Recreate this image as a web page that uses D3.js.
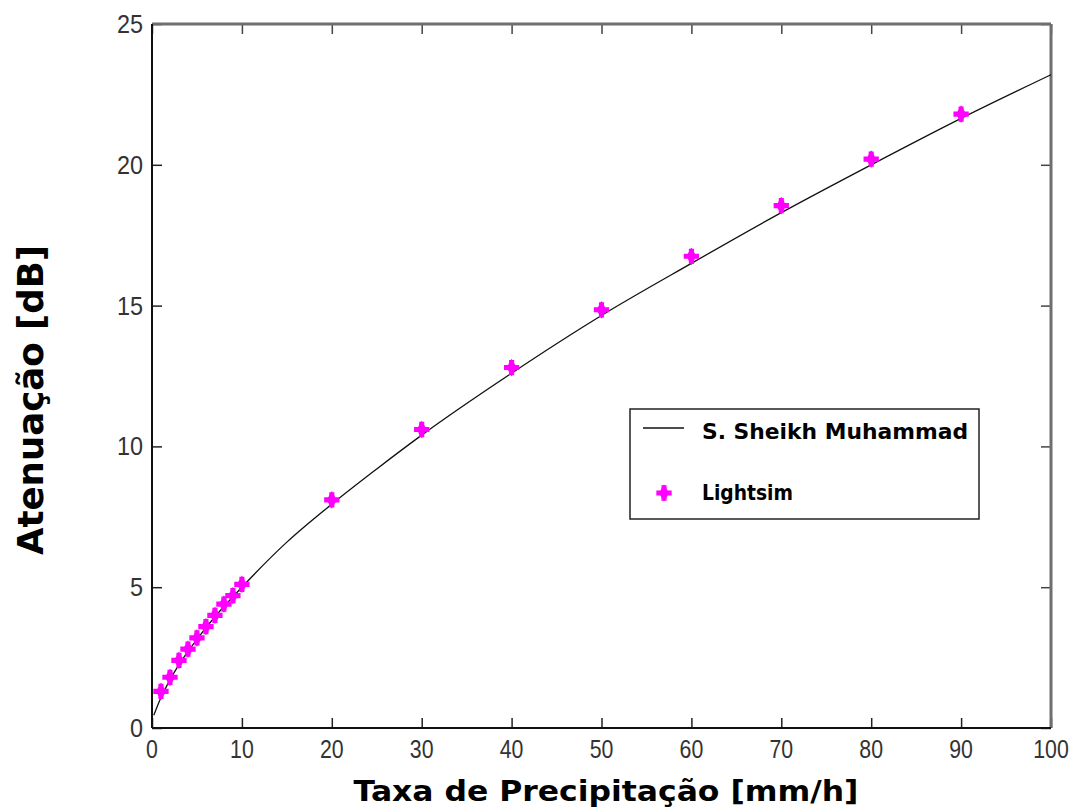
<!DOCTYPE html>
<html>
<head>
<script src="https://d3js.org/d3.v7.min.js"></script>
<style>
  body { margin: 0; background: #fff; }
  text { font-family: "Liberation Sans", Arial, sans-serif; }
  text.heavy { font-family: "DejaVu Sans", "Liberation Sans", sans-serif; font-weight: bold; }
</style>
</head>
<body>
<svg id="chart" width="1073" height="808"></svg>
<script>
// curve (S. Sheikh Muhammad)
const curveX = [0.2, 1, 2, 3, 5, 7, 10, 15, 20, 25, 30, 40, 50, 60, 70, 80, 90, 100];
const curveY = [0.45, 1.08, 1.71, 2.25, 3.15, 3.95, 5.0, 6.6, 7.95, 9.2, 10.4, 12.6, 14.65, 16.5, 18.3, 20.0, 21.65, 23.2];

// Lightsim points
const simX = [1, 2, 3, 4, 5, 6, 7, 8, 9, 10, 20, 30, 40, 50, 60, 70, 80, 90];
const simY = [1.3, 1.8, 2.4, 2.8, 3.2, 3.6, 4.0, 4.4, 4.7, 5.1, 8.1, 10.6, 12.8, 14.85, 16.75, 18.55, 20.2, 21.8];

const xTicks = [0, 10, 20, 30, 40, 50, 60, 70, 80, 90, 100];
const yTicks = [0, 5, 10, 15, 20, 25];

const svg = d3.select("#chart");
const pLeft = 152, pRight = 1051, pTop = 24, pBottom = 728;

const x = d3.scaleLinear().domain([0, 100]).range([pLeft, pRight]);
const y = d3.scaleLinear().domain([0, 25]).range([pBottom, pTop]);

// inward ticks on all four sides
const tickLen = 10;
svg.append("g").attr("transform", `translate(0,${pBottom})`)
  .call(d3.axisTop(x).tickValues(xTicks).tickSize(tickLen).tickFormat(""))
  .call(g => g.select(".domain").remove())
  .selectAll("line").attr("stroke", "#222").attr("stroke-width", 1.5);
svg.append("g").attr("transform", `translate(0,${pTop})`)
  .call(d3.axisBottom(x).tickValues(xTicks).tickSize(tickLen).tickFormat(""))
  .call(g => g.select(".domain").remove())
  .selectAll("line").attr("stroke", "#444").attr("stroke-width", 1.5);
svg.append("g").attr("transform", `translate(${pLeft},0)`)
  .call(d3.axisRight(y).tickValues(yTicks).tickSize(tickLen).tickFormat(""))
  .call(g => g.select(".domain").remove())
  .selectAll("line").attr("stroke", "#222").attr("stroke-width", 1.5);
svg.append("g").attr("transform", `translate(${pRight},0)`)
  .call(d3.axisLeft(y).tickValues(yTicks).tickSize(tickLen).tickFormat(""))
  .call(g => g.select(".domain").remove())
  .selectAll("line").attr("stroke", "#444").attr("stroke-width", 1.5);

// frame
svg.append("line").attr("x1", pLeft).attr("x2", pRight).attr("y1", pTop).attr("y2", pTop)
  .attr("stroke", "#6e6e6e").attr("stroke-width", 3);
svg.append("line").attr("x1", pRight).attr("x2", pRight).attr("y1", pTop).attr("y2", pBottom)
  .attr("stroke", "#6e6e6e").attr("stroke-width", 3);
svg.append("line").attr("x1", pLeft).attr("x2", pLeft).attr("y1", pTop).attr("y2", pBottom)
  .attr("stroke", "#111").attr("stroke-width", 2);
svg.append("line").attr("x1", pLeft).attr("x2", pRight).attr("y1", pBottom).attr("y2", pBottom)
  .attr("stroke", "#111").attr("stroke-width", 2);

// tick labels (narrow, like the original bitmap font)
svg.selectAll(".xl").data(xTicks).enter().append("text")
  .attr("x", d => x(d)).attr("y", pBottom + 30)
  .attr("text-anchor", "middle").attr("font-size", 26).attr("fill", "#333")
  .attr("transform", d => `translate(${x(d)},0) scale(0.82,1) translate(${-x(d)},0)`)
  .text(d => d);
svg.selectAll(".yl").data(yTicks).enter().append("text")
  .attr("x", pLeft - 9).attr("y", d => y(d) + 9)
  .attr("text-anchor", "end").attr("font-size", 26).attr("fill", "#333")
  .attr("transform", `translate(${pLeft - 9},0) scale(0.9,1) translate(${-(pLeft - 9)},0)`)
  .text(d => d);

// axis titles
svg.append("text").attr("class", "heavy").attr("x", 606).attr("y", 801)
  .attr("text-anchor", "middle").attr("font-size", 29)
  .attr("textLength", 505).attr("lengthAdjust", "spacingAndGlyphs")
  .text("Taxa de Precipitação [mm/h]");
svg.append("text").attr("class", "heavy").attr("transform", "translate(43,400) rotate(-90)")
  .attr("text-anchor", "middle").attr("font-size", 36)
  .attr("textLength", 310).attr("lengthAdjust", "spacingAndGlyphs")
  .text("Atenuação [dB]");

// curve
const curve = curveX.map((d, i) => [d, curveY[i]]);
svg.append("path").datum(curve)
  .attr("fill", "none").attr("stroke", "#111").attr("stroke-width", 1.3)
  .attr("d", d3.line().x(d => x(d[0])).y(d => y(d[1])).curve(d3.curveMonotoneX));

// markers: cross + diamond blob
const markSym = (g) => {
  g.append("path").attr("d", d3.symbol(d3.symbolCross, 130)())
    .attr("fill", "#ff00ff");
  g.append("path").attr("d", d3.symbol(d3.symbolDiamond, 90)())
    .attr("fill", "#ff00ff");
};
const sims = simX.map((d, i) => [d, simY[i]]);
svg.selectAll(".sim").data(sims).enter().append("g")
  .attr("transform", d => `translate(${x(d[0])},${y(d[1])})`)
  .each(function() { markSym(d3.select(this)); });

// legend
const lg = svg.append("g");
lg.append("rect").attr("x", 630).attr("y", 409).attr("width", 349).attr("height", 110)
  .attr("fill", "#fff").attr("stroke", "#222").attr("stroke-width", 1.5);
lg.append("line").attr("x1", 643).attr("x2", 684).attr("y1", 428).attr("y2", 428)
  .attr("stroke", "#111").attr("stroke-width", 1.3);
lg.append("text").attr("class", "heavy").attr("x", 702).attr("y", 439).attr("font-size", 22)
  .attr("textLength", 266).attr("lengthAdjust", "spacingAndGlyphs")
  .text("S. Sheikh Muhammad");
const lm = lg.append("g").attr("transform", "translate(664,493)");
markSym(lm);
lg.append("text").attr("class", "heavy").attr("x", 702).attr("y", 500).attr("font-size", 22)
  .attr("textLength", 91).attr("lengthAdjust", "spacingAndGlyphs")
  .text("Lightsim");
</script>
</body>
</html>
